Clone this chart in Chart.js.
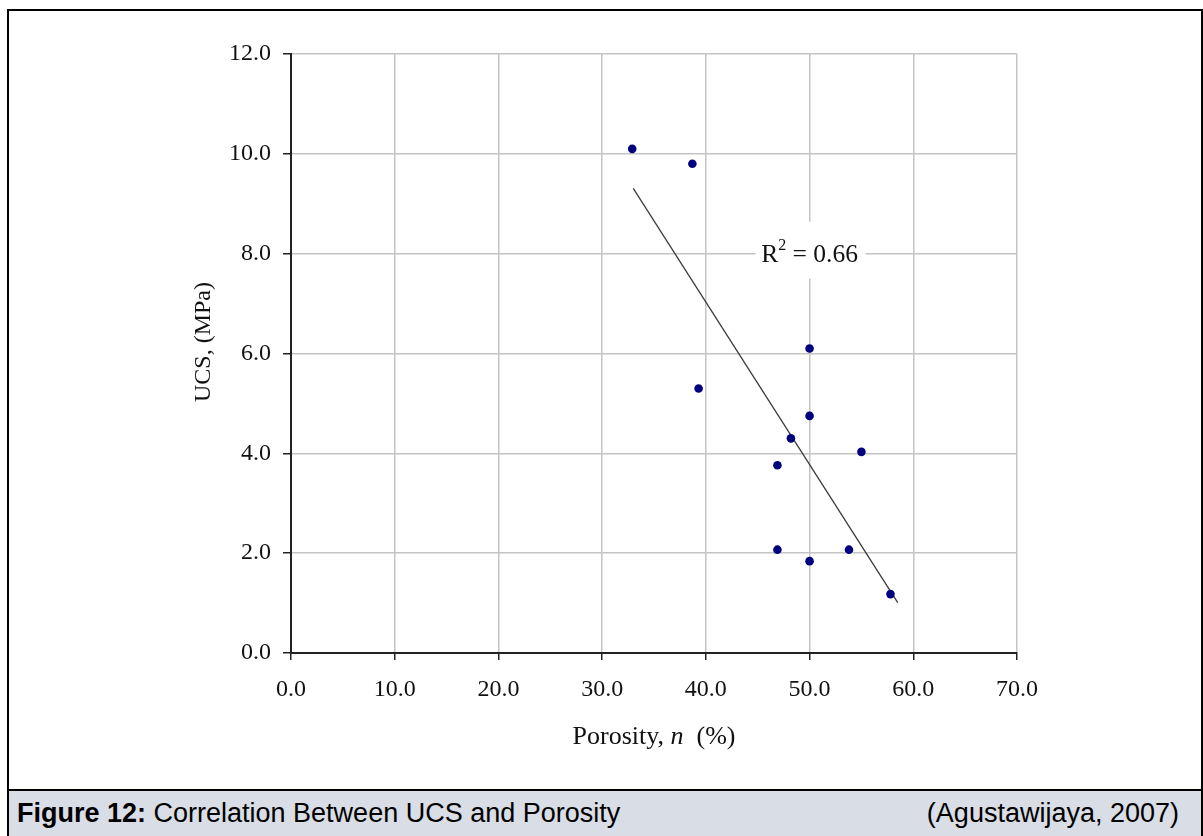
<!DOCTYPE html>
<html>
<head>
<meta charset="utf-8">
<script src="https://cdn.jsdelivr.net/npm/chart.js@4.4.1/dist/chart.umd.min.js"></script>
<style>
  html, body { margin: 0; padding: 0; background: #fff; }
  body { width: 1203px; height: 836px; position: relative; overflow: hidden; }
  #frame {
    position: absolute; left: 7px; top: 9px; width: 1192px; height: 840px;
    border-top: 2px solid #000; border-left: 2px solid #000; border-right: 2px solid #000;
  }
  #chartBox { position: absolute; left: 0; top: 0; width: 1203px; height: 789px; }
  #caption {
    position: absolute; left: 9px; top: 789px; width: 1192px; height: 45px;
    border-top: 2px solid #000; background: #d9dde5;
    font-family: "Liberation Sans", Arial, sans-serif; font-size: 27px; color: #000;
  }
  #caption .left { position: absolute; left: 8px; top: 7px; }
  #caption .right { position: absolute; right: 22px; top: 7px; }
</style>
</head>
<body>
<div id="frame"></div>
<div id="chartBox"><canvas id="chart"></canvas></div>
<div id="caption">
  <span class="left"><b>Figure 12:</b> Correlation Between UCS and Porosity</span>
  <span class="right">(Agustawijaya, 2007)</span>
</div>
<script>
// measured samples: porosity n (%) vs UCS (MPa)
const porosity = [32.9, 38.7, 39.3, 50.0, 50.0, 48.2, 55.0, 46.9, 46.9, 53.8, 50.0, 57.8];
const ucs      = [10.1, 9.8,  5.3,  6.1,  4.75, 4.3,  4.03, 3.76, 2.07, 2.07, 1.84, 1.18];

// linear trend line end points
const trendX = [33.0, 58.5];
const trendY = [9.31, 1.01];

const xTicks = [0, 10, 20, 30, 40, 50, 60, 70];
const yTicks = [0, 2, 4, 6, 8, 10, 12];
const r2Label = "0.66";

const serif = "'Liberation Serif', 'Times New Roman', serif";

const textPlugin = {
  id: "texts",
  afterDraw(chart) {
    const { ctx, chartArea: a, scales } = chart;
    ctx.save();
    ctx.fillStyle = "#111";

    // y axis title
    ctx.save();
    ctx.translate(a.left - 87, 342);
    ctx.rotate(-Math.PI / 2);
    ctx.font = "24px " + serif;
    ctx.textAlign = "center";
    ctx.textBaseline = "middle";
    ctx.fillText("UCS, (MPa)", 0, 0);
    ctx.restore();

    // x axis title with italic n
    const parts = [
      ["Porosity, ", "26px " + serif],
      ["n", "italic 26px " + serif],
      ["  (%)", "26px " + serif],
    ];
    let total = 0;
    parts.forEach(p => { ctx.font = p[1]; total += ctx.measureText(p[0]).width; });
    let x = (a.left + a.right) / 2 - total / 2;
    ctx.textBaseline = "alphabetic";
    ctx.textAlign = "left";
    parts.forEach(p => {
      ctx.font = p[1];
      ctx.fillText(p[0], x, a.bottom + 91);
      x += ctx.measureText(p[0]).width;
    });

    // R squared label
    const px = scales.x.getPixelForValue(50);
    const py = scales.y.getPixelForValue(8);
    ctx.fillStyle = "#fff";
    ctx.fillRect(px - 54, py - 32, 110, 57);
    ctx.fillStyle = "#111";
    const big = "25.5px " + serif, small = "16px " + serif;
    ctx.font = big;
    const wR = ctx.measureText("R").width;
    const rest = " = " + r2Label;
    const wRest = ctx.measureText(rest).width;
    ctx.font = small;
    const w2 = ctx.measureText("2").width;
    let sx = px - (wR + w2 + wRest) / 2;
    const base = py + 8;
    ctx.font = big;
    ctx.fillText("R", sx, base);
    sx += wR;
    ctx.font = small;
    ctx.fillText("2", sx, base - 12);
    sx += w2;
    ctx.font = big;
    ctx.fillText(rest, sx, base);
    ctx.restore();
  }
};

new Chart(document.getElementById("chart"), {
  type: "scatter",
  data: {
    datasets: [
      {
        label: "UCS",
        data: porosity.map((v, i) => ({ x: v, y: ucs[i] })),
        backgroundColor: "#00007f",
        borderWidth: 0,
        pointRadius: 4.3,
        order: 0,
      },
      {
        label: "Trend",
        type: "line",
        data: trendX.map((v, i) => ({ x: v, y: trendY[i] })),
        borderColor: "#3c3c3c",
        borderWidth: 1.3,
        pointRadius: 0,
        fill: false,
        order: 1,
      },
    ],
  },
  options: {
    responsive: true,
    maintainAspectRatio: false,
    animation: false,
    events: [],
    layout: { padding: { left: 0, top: 54, right: 186, bottom: 0 } },
    plugins: { legend: { display: false }, tooltip: { enabled: false } },
    scales: {
      x: {
        type: "linear",
        min: 0,
        max: 70,
        afterBuildTicks: s => { s.ticks = xTicks.map(v => ({ value: v })); },
        afterFit: s => { s.height = 136; },
        ticks: {
          callback: v => v.toFixed(1),
          font: { family: serif, size: 24 },
          color: "#111",
          padding: 15,
        },
        grid: { color: "#c4c4c4", lineWidth: 1.5, tickColor: "#222", tickLength: 7 },
        border: { color: "#222", width: 2 },
      },
      y: {
        type: "linear",
        min: 0,
        max: 12,
        afterBuildTicks: s => { s.ticks = yTicks.map(v => ({ value: v })); },
        afterFit: s => { s.width = 291; },
        ticks: {
          callback: v => v.toFixed(1),
          font: { family: serif, size: 24 },
          color: "#111",
          padding: 12,
        },
        grid: { color: "#c4c4c4", lineWidth: 1.5, tickColor: "#222", tickLength: 8 },
        border: { color: "#222", width: 2 },
      },
    },
  },
  plugins: [textPlugin],
});
</script>
</body>
</html>
